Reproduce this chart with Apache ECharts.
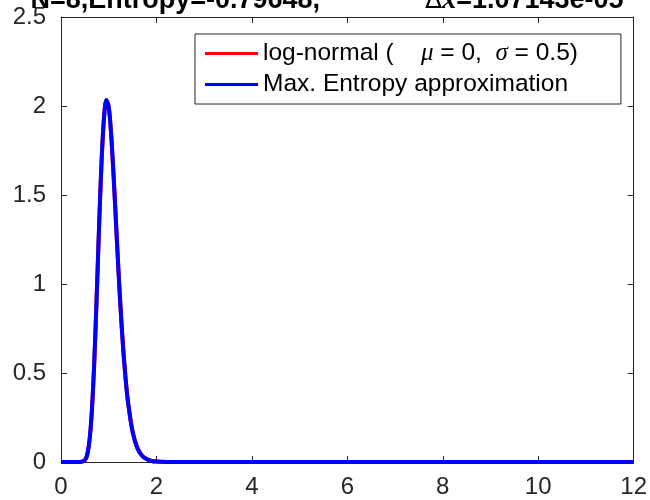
<!DOCTYPE html>
<html>
<head>
<meta charset="utf-8">
<script src="https://cdn.jsdelivr.net/npm/echarts@6/dist/echarts.min.js"></script>
<style>
  html, body { margin: 0; padding: 0; background: #fff; }
  #chart { width: 650px; height: 500px; }
</style>
</head>
<body>
<div id="chart"></div>
<script>
// Sample positions along x
const xs = [0, 0.2, 0.4, 0.5, 0.55, 0.6, 0.65, 0.7, 0.75, 0.8, 0.85, 0.9, 0.95, 1.0,
            1.05, 1.1, 1.15, 1.2, 1.25, 1.3, 1.35, 1.4, 1.5, 1.6, 1.7, 1.8, 1.9, 2.0,
            2.2, 2.5, 3, 4, 6, 8, 10, 12];

// Reference density (log-normal)
const logNormal = [0, 0, 0.0001, 0.010, 0.042, 0.128, 0.302, 0.581, 0.945, 1.338, 1.687, 1.929, 2.032, 1.995,
                   1.844, 1.619, 1.359, 1.097, 0.857, 0.649, 0.479, 0.346, 0.170, 0.079, 0.035, 0.015, 0.006, 0.0025,
                   0.0004, 0, 0, 0, 0, 0, 0, 0];

// Maximum-entropy approximation of the same density
const maxEntropy = [0, 0, 0.0001, 0.010, 0.041, 0.127, 0.301, 0.580, 0.946, 1.339, 1.689, 1.931, 2.034, 1.996,
                    1.844, 1.618, 1.358, 1.096, 0.856, 0.649, 0.479, 0.346, 0.171, 0.079, 0.035, 0.015, 0.006, 0.0025,
                    0.0004, 0, 0, 0, 0, 0, 0, 0];

const xTicks = [0, 2, 4, 6, 8, 10, 12];
const yTicks = [0, 0.5, 1, 1.5, 2, 2.5];

const seriesNames = ['log-normal', 'Max. Entropy approximation'];
const titleMain = 'N=8,Entropy=-0.79648,';
const titleGap = '              ';
const titleDelta = 'Δ';
const titleX = 'x';
const titleValue = '=1.07143e-05';

const pairs = (vals) => xs.map((x, i) => [x, vals[i]]);

const axisColor = '#262626';
const font = '"Liberation Sans", Arial, Helvetica, sans-serif';
const serif = '"Liberation Serif", "Times New Roman", serif';

const chart = echarts.init(document.getElementById('chart'), null, { renderer: 'canvas' });

const baseX = {
  type: 'value', min: xTicks[0], max: xTicks[xTicks.length - 1], interval: 2,
  axisLine: { show: true, onZero: false, lineStyle: { color: axisColor, width: 1 } },
  axisTick: { show: true, inside: true, length: 6, lineStyle: { color: axisColor } },
  splitLine: { show: false }
};
const baseY = {
  type: 'value', min: yTicks[0], max: yTicks[yTicks.length - 1], interval: 0.5,
  axisLine: { show: true, onZero: false, lineStyle: { color: axisColor, width: 1 } },
  axisTick: { show: true, inside: true, length: 6, lineStyle: { color: axisColor } },
  splitLine: { show: false }
};

chart.setOption({
  animation: false,
  backgroundColor: '#fff',
  title: {
    text: '{b|' + titleMain + titleGap + '}{d|' + titleDelta + '}{i|' + titleX + '}{b|' + titleValue + '}',
    left: 322,
    top: -18,
    textAlign: 'center',
    textStyle: {
      rich: {
        b: { fontFamily: font, fontWeight: 'bold', fontSize: 27, color: '#000' },
        d: { fontFamily: '"DejaVu Sans", sans-serif', fontWeight: 'normal', fontSize: 25, color: '#000' },
        i: { fontFamily: serif, fontStyle: 'italic', fontSize: 28, color: '#000' }
      }
    }
  },
  grid: { left: 61, right: 14, top: 17, bottom: 38, containLabel: false },
  legend: {
    data: seriesNames,
    orient: 'vertical',
    left: 195,
    top: 34,
    padding: [7, 43, 7, 10],
    icon: 'rect',
    itemWidth: 53,
    itemHeight: 3,
    itemGap: 6,
    backgroundColor: '#fff',
    borderColor: axisColor,
    borderWidth: 1,
    borderRadius: 0,
    formatter: function (name) {
      if (name === seriesNames[0]) {
        return '{a|log-normal (    }{g|μ}{a| = 0,  }{g|σ}{a| = 0.5)}';
      }
      return '{a|' + name + '}';
    },
    textStyle: {
      rich: {
        a: { fontFamily: font, fontSize: 24.5, lineHeight: 24, color: '#000' },
        g: { fontFamily: serif, fontStyle: 'italic', fontSize: 25, lineHeight: 24, color: '#000' }
      }
    }
  },
  xAxis: [
    Object.assign({}, baseX, {
      position: 'bottom',
      axisLabel: { show: true, margin: 13, fontFamily: font, fontSize: 24, color: axisColor }
    }),
    Object.assign({}, baseX, { position: 'top', axisLabel: { show: false } })
  ],
  yAxis: [
    Object.assign({}, baseY, {
      position: 'left',
      axisLabel: { show: true, margin: 15, fontFamily: font, fontSize: 24, color: axisColor }
    }),
    Object.assign({}, baseY, { position: 'right', axisLabel: { show: false } })
  ],
  series: [
    {
      name: seriesNames[0], type: 'line', data: pairs(logNormal),
      xAxisIndex: 0, yAxisIndex: 0,
      symbol: 'none', smooth: 0.3,
      lineStyle: { color: '#ff0000', width: 4 },
      itemStyle: { color: '#ff0000' }
    },
    {
      name: seriesNames[1], type: 'line', data: pairs(maxEntropy),
      xAxisIndex: 0, yAxisIndex: 0,
      symbol: 'none', smooth: 0.3,
      lineStyle: { color: '#0000ff', width: 4 },
      itemStyle: { color: '#0000ff' }
    }
  ]
});
</script>
</body>
</html>
